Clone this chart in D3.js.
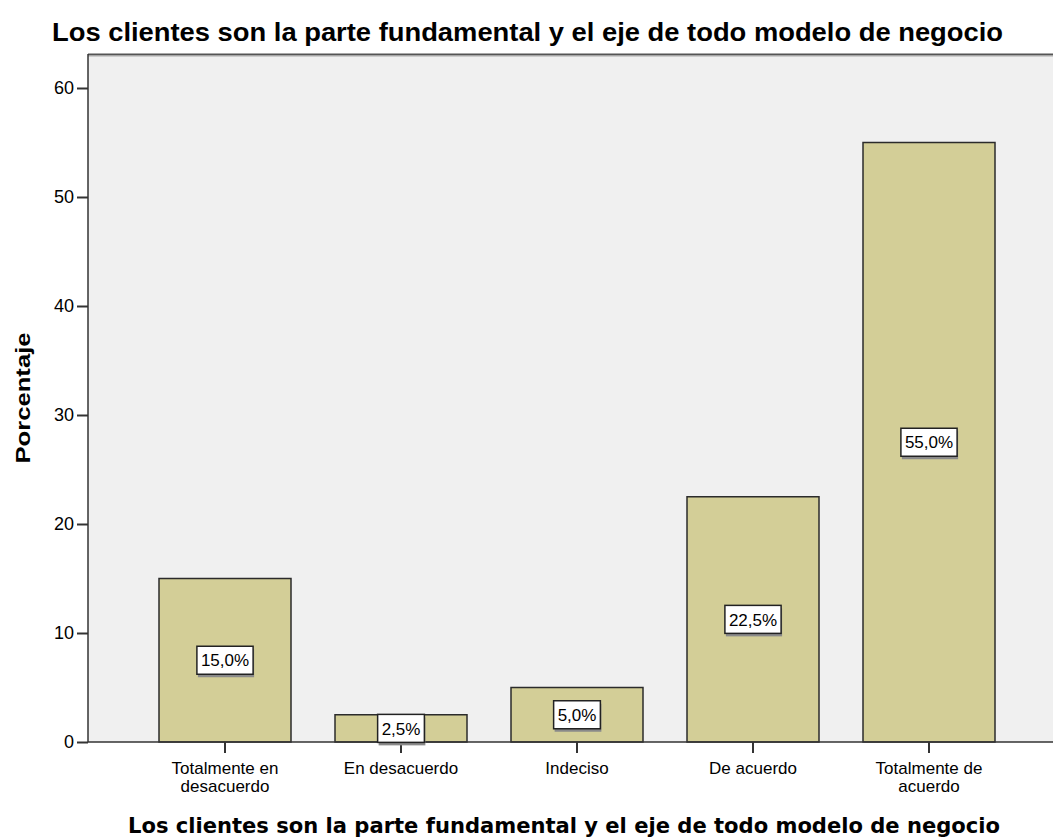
<!DOCTYPE html>
<html>
<head>
<meta charset="utf-8">
<script src="https://cdn.jsdelivr.net/npm/d3@7"></script>
<style>
  body { margin: 0; background: #fff; }
  text { font-family: "Liberation Sans", Arial, sans-serif; fill: #000; }
</style>
</head>
<body>
<script>
'use strict';

const categories = ["Totalmente en\ndesacuerdo", "En desacuerdo", "Indeciso", "De acuerdo", "Totalmente de\nacuerdo"];
const percents = [15.0, 2.5, 5.0, 22.5, 55.0];
const yTicks = [0, 10, 20, 30, 40, 50, 60];

const chartTitle = "Los clientes son la parte fundamental y el eje de todo modelo de negocio";
const xTitle = "Los clientes son la parte fundamental y el eje de todo modelo de negocio";
const yTitle = "Porcentaje";

(function () {
    const width = 1053, height = 840;
    const plotLeft = 88, plotTop = 54, plotRight = 1053, plotBottom = 742;

    const svg = d3.select('body').append('svg')
        .attr('width', width)
        .attr('height', height);

    // plot background
    svg.append('rect')
        .attr('x', plotLeft).attr('y', plotTop)
        .attr('width', plotRight - plotLeft).attr('height', plotBottom - plotTop)
        .attr('fill', '#f0f0f0');

    // top frame line
    svg.append('line')
        .attr('x1', plotLeft).attr('x2', plotRight)
        .attr('y1', plotTop + 0.5).attr('y2', plotTop + 0.5)
        .attr('stroke', '#555').attr('stroke-width', 2);
    svg.append('line')
        .attr('x1', plotLeft).attr('x2', plotRight)
        .attr('y1', plotTop + 2).attr('y2', plotTop + 2)
        .attr('stroke', '#aaa').attr('stroke-width', 1);

    const x = d3.scaleBand()
        .domain(categories)
        .range([115, 1039])
        .padding(0.25);

    // 60 sits at y=88, frame top at 54
    const y = d3.scaleLinear()
        .domain([0, 60 * (plotBottom - plotTop) / (plotBottom - 88)])
        .range([plotBottom, plotTop]);

    // bars
    svg.selectAll('.bar')
        .data(percents)
        .enter()
        .append('rect')
        .attr('class', 'bar')
        .attr('x', (d, i) => x(categories[i]))
        .attr('y', d => y(d))
        .attr('width', x.bandwidth())
        .attr('height', d => y(0) - y(d))
        .attr('fill', '#d3ce97')
        .attr('stroke', '#2b2b2b')
        .attr('stroke-width', 1.5);

    // y axis
    const yAxis = d3.axisLeft(y).tickValues(yTicks).tickSize(11).tickPadding(3);
    const gy = svg.append('g')
        .attr('transform', `translate(${plotLeft},0)`)
        .call(yAxis);
    gy.select('.domain').remove();
    gy.append('line')
        .attr('x1', 0).attr('x2', 0)
        .attr('y1', plotTop).attr('y2', plotBottom)
        .attr('stroke', '#333').attr('stroke-width', 1.5);
    gy.selectAll('.tick line').attr('stroke', '#333').attr('stroke-width', 2);
    gy.selectAll('.tick text')
        .style('font-size', '18px')
        .style('font-family', '"Liberation Sans", Arial, sans-serif')
        .attr('fill', '#222');

    // x axis
    const xAxis = d3.axisBottom(x).tickSize(11).tickFormat('');
    const gx = svg.append('g')
        .attr('transform', `translate(0,${plotBottom})`)
        .call(xAxis);
    gx.select('.domain').remove();
    gx.selectAll('.tick line').attr('stroke', '#333').attr('stroke-width', 2);
    gx.append('line')
        .attr('x1', plotLeft).attr('x2', plotRight)
        .attr('y1', 0).attr('y2', 0)
        .attr('stroke', '#333').attr('stroke-width', 1.5);

    // category labels, wrapped
    gx.selectAll('.tick').each(function (d) {
        const lines = d.split('\n');
        const t = d3.select(this).append('text')
            .attr('text-anchor', 'middle')
            .attr('fill', '#222')
            .style('font-size', '17px');
        lines.forEach((ln, k) => {
            t.append('tspan')
                .attr('x', 0)
                .attr('y', 32 + k * 18)
                .text(ln);
        });
    });

    // value labels in boxes
    const labels = svg.selectAll('.lbl')
        .data(percents)
        .enter()
        .append('g')
        .attr('class', 'lbl')
        .attr('transform', (d, i) => `translate(${x(categories[i]) + x.bandwidth() / 2},${y(d / 2)})`);

    labels.each(function (d) {
        const g = d3.select(this);
        const shadow = g.append('rect');
        const box = g.append('rect');
        const txt = g.append('text')
            .attr('text-anchor', 'middle')
            .attr('dy', '0.36em')
            .attr('fill', '#111')
            .style('font-size', '17px')
            .text(d.toFixed(1).replace('.', ',') + '%');
        const w = txt.node().getComputedTextLength() + 8;
        const h = 28;
        shadow.attr('x', -w / 2 + 1).attr('y', -h / 2 + 3)
            .attr('width', w).attr('height', h)
            .attr('fill', '#8a8a8a');
        box.attr('x', -w / 2).attr('y', -h / 2)
            .attr('width', w).attr('height', h)
            .attr('fill', '#fff')
            .attr('stroke', '#222').attr('stroke-width', 1.5);
    });

    // chart title
    svg.append('text')
        .attr('x', 52)
        .attr('y', 41)
        .attr('textLength', 951)
        .attr('lengthAdjust', 'spacingAndGlyphs')
        .style('font-weight', 'bold')
        .style('font-size', '25px')
        .text(chartTitle);

    // x title
    svg.append('text')
        .attr('x', 128)
        .attr('y', 833)
        .attr('textLength', 872)
        .attr('lengthAdjust', 'spacingAndGlyphs')
        .style('font-family', '"DejaVu Sans", Verdana, sans-serif')
        .style('font-weight', 'bold')
        .style('font-size', '22px')
        .text(xTitle);

    // y title
    svg.append('text')
        .attr('transform', 'translate(30,398)rotate(-90)')
        .attr('text-anchor', 'middle')
        .attr('textLength', 131)
        .attr('lengthAdjust', 'spacingAndGlyphs')
        .style('font-weight', 'bold')
        .style('font-size', '20px')
        .text(yTitle);
})();
</script>
</body>
</html>
